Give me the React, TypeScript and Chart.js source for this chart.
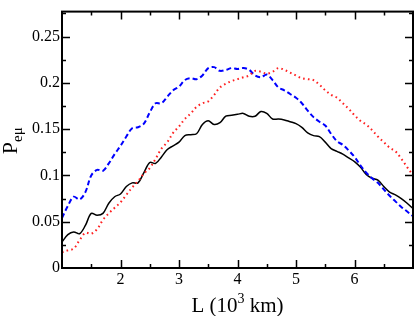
import React, { useEffect, useRef } from "react";
import { Chart, registerables } from "chart.js";

Chart.register(...registerables);

const L = [1.0, 1.1, 1.2, 1.3, 1.4, 1.5, 1.6, 1.7, 1.8, 1.9, 2.0, 2.1, 2.2, 2.3, 2.4, 2.5, 2.6, 2.7, 2.8, 2.9, 3.0, 3.1, 3.2, 3.3, 3.4, 3.5, 3.6, 3.7, 3.8, 3.9, 4.0, 4.1, 4.2, 4.3, 4.4, 4.5, 4.6, 4.7, 4.8, 4.9, 5.0, 5.1, 5.2, 5.3, 5.4, 5.5, 5.6, 5.7, 5.8, 5.9, 6.0, 6.1, 6.2, 6.3, 6.4, 6.5, 6.6, 6.7, 6.8, 6.9, 7.0];

const blackSolid = [0.028, 0.036, 0.039, 0.037, 0.046, 0.059, 0.057, 0.059, 0.070, 0.077, 0.080, 0.088, 0.092, 0.092, 0.103, 0.114, 0.113, 0.120, 0.128, 0.132, 0.136, 0.143, 0.144, 0.145, 0.155, 0.159, 0.155, 0.157, 0.164, 0.165, 0.166, 0.167, 0.164, 0.164, 0.169, 0.167, 0.161, 0.161, 0.160, 0.158, 0.156, 0.152, 0.146, 0.143, 0.142, 0.136, 0.129, 0.126, 0.123, 0.119, 0.115, 0.109, 0.101, 0.097, 0.095, 0.088, 0.082, 0.079, 0.075, 0.070, 0.064];

const blueDashed = [0.054, 0.067, 0.077, 0.074, 0.082, 0.100, 0.106, 0.105, 0.113, 0.123, 0.132, 0.142, 0.151, 0.152, 0.156, 0.168, 0.178, 0.178, 0.185, 0.192, 0.196, 0.203, 0.205, 0.204, 0.208, 0.216, 0.217, 0.213, 0.214, 0.216, 0.215, 0.216, 0.214, 0.208, 0.206, 0.209, 0.203, 0.195, 0.192, 0.188, 0.184, 0.178, 0.170, 0.163, 0.158, 0.154, 0.145, 0.137, 0.133, 0.127, 0.120, 0.111, 0.103, 0.097, 0.092, 0.085, 0.078, 0.072, 0.066, 0.061, 0.056];

const redDotted = [0.017, 0.019, 0.021, 0.030, 0.038, 0.037, 0.042, 0.052, 0.059, 0.065, 0.071, 0.079, 0.087, 0.094, 0.102, 0.108, 0.118, 0.129, 0.136, 0.146, 0.153, 0.161, 0.167, 0.174, 0.178, 0.180, 0.187, 0.195, 0.199, 0.202, 0.204, 0.206, 0.208, 0.213, 0.212, 0.210, 0.212, 0.216, 0.214, 0.211, 0.208, 0.205, 0.204, 0.203, 0.198, 0.192, 0.187, 0.184, 0.178, 0.172, 0.165, 0.159, 0.155, 0.149, 0.142, 0.136, 0.130, 0.126, 0.118, 0.109, 0.100];

const xMajorTicks = [2, 3, 4, 5, 6];
const xMinorTicks = [1.5, 2.5, 3.5, 4.5, 5.5, 6.5];
const yMajorTicks = [0.05, 0.1, 0.15, 0.2, 0.25];
const yMinorTicks = [0.025, 0.075, 0.125, 0.175, 0.225, 0.275];
const yTickLabels = ["0", "0.05", "0.1", "0.15", "0.2", "0.25"];

const SERIF = "'Liberation Serif', 'Times New Roman', serif";

const frame = {
  id: "frame",
  afterDraw(chart: any) {
    const { ctx, chartArea, scales } = chart;
    const { left, right, top, bottom } = chartArea;
    const xs = scales.x;
    const ys = scales.y;
    ctx.save();
    ctx.strokeStyle = "#000";
    ctx.lineWidth = 1.5;
    ctx.beginPath();
    const tick = (isX: boolean, v: number, len: number) => {
      if (isX) {
        const p = Math.round(xs.getPixelForValue(v)) + 0.5;
        ctx.moveTo(p, bottom);
        ctx.lineTo(p, bottom - len);
        ctx.moveTo(p, top);
        ctx.lineTo(p, top + len);
      } else {
        const p = Math.round(ys.getPixelForValue(v)) + 0.5;
        ctx.moveTo(left, p);
        ctx.lineTo(left + len, p);
        ctx.moveTo(right, p);
        ctx.lineTo(right - len, p);
      }
    };
    xMajorTicks.forEach((v) => tick(true, v, 8));
    xMinorTicks.forEach((v) => tick(true, v, 4));
    yMajorTicks.forEach((v) => tick(false, v, 8));
    yMinorTicks.forEach((v) => tick(false, v, 4));
    ctx.stroke();
    ctx.lineWidth = 2;
    ctx.strokeRect(left, top, right - left, bottom - top);

    // x title
    ctx.fillStyle = "#000";
    ctx.textBaseline = "alphabetic";
    ctx.textAlign = "left";
    const big = `21px ${SERIF}`;
    const small = `14px ${SERIF}`;
    ctx.font = big;
    const a = "L (10";
    const c = " km)";
    const wa = ctx.measureText(a).width;
    const wc = ctx.measureText(c).width;
    ctx.font = small;
    const wb = ctx.measureText("3").width;
    const total = wa + wb + wc;
    const cx = (left + right) / 2;
    let x0 = cx - total / 2;
    const base = 312;
    ctx.font = big;
    ctx.fillText(a, x0, base);
    ctx.font = small;
    ctx.fillText("3", x0 + wa, base - 9);
    ctx.font = big;
    ctx.fillText(c, x0 + wa + wb, base);

    // y title
    ctx.translate(17, (top + bottom) / 2 + 1);
    ctx.rotate(-Math.PI / 2);
    ctx.font = `22px ${SERIF}`;
    const wp = ctx.measureText("P").width;
    ctx.font = `15px ${SERIF}`;
    const ws = ctx.measureText("eμ").width;
    const tot = wp + ws;
    ctx.font = `22px ${SERIF}`;
    ctx.fillText("P", -tot / 2, 0);
    ctx.font = `15px ${SERIF}`;
    ctx.fillText("eμ", -tot / 2 + wp, 5);
    ctx.restore();
  },
};

export default function App() {
  const ref = useRef<HTMLCanvasElement | null>(null);
  useEffect(() => {
    document.body.style.margin = "0";
    document.body.style.overflow = "hidden";
    const canvas = ref.current!;
    const mk = (arr: number[]) => L.map((x, i) => ({ x, y: arr[i] }));
    const chart = new Chart(canvas, {
      type: "line",
      data: {
        datasets: [
          {
            label: "red",
            data: mk(redDotted),
            borderColor: "#ff2020",
            borderWidth: 2,
            borderDash: [1.6, 3.2],
            pointRadius: 0,
            tension: 0.35,
            fill: false,
          },
          {
            label: "blue",
            data: mk(blueDashed),
            borderColor: "#0000ff",
            borderWidth: 2,
            borderDash: [5, 3],
            pointRadius: 0,
            tension: 0.35,
            fill: false,
          },
          {
            label: "black",
            data: mk(blackSolid),
            borderColor: "#000000",
            borderWidth: 1.5,
            pointRadius: 0,
            tension: 0.35,
            fill: false,
          },
        ],
      },
      options: {
        responsive: false,
        animation: false,
        events: [],
        layout: { padding: { top: 1, right: 1, left: 0, bottom: 0 } },
        plugins: { legend: { display: false }, tooltip: { enabled: false } },
        scales: {
          x: {
            type: "linear",
            min: 1,
            max: 7,
            grid: { display: false, drawTicks: false },
            border: { display: false },
            afterFit: (s: any) => {
              s.height = 48;
            },
            afterBuildTicks: (s: any) => {
              s.ticks = [1, ...xMajorTicks, 7].map((v) => ({ value: v }));
            },
            ticks: {
              padding: 2,
              color: "#000",
              font: { family: SERIF, size: 16 },
              callback: (v: any) => (xMajorTicks.includes(v) ? String(v) : ""),
              maxRotation: 0,
            },
          },
          y: {
            type: "linear",
            min: 0,
            max: 0.277,
            grid: { display: false, drawTicks: false },
            border: { display: false },
            afterFit: (s: any) => {
              s.width = 62;
            },
            afterBuildTicks: (s: any) => {
              s.ticks = [0, ...yMajorTicks].map((v) => ({ value: v }));
            },
            ticks: {
              padding: 2,
              color: "#000",
              font: { family: SERIF, size: 16 },
              callback: (_v: any, i: number) => yTickLabels[i],
            },
          },
        },
      },
      plugins: [frame],
    });
    return () => chart.destroy();
  }, []);
  return (
    <div style={{ width: 415, height: 316, background: "#fff" }}>
      <canvas ref={ref} width={415} height={316} style={{ display: "block" }} />
    </div>
  );
}
